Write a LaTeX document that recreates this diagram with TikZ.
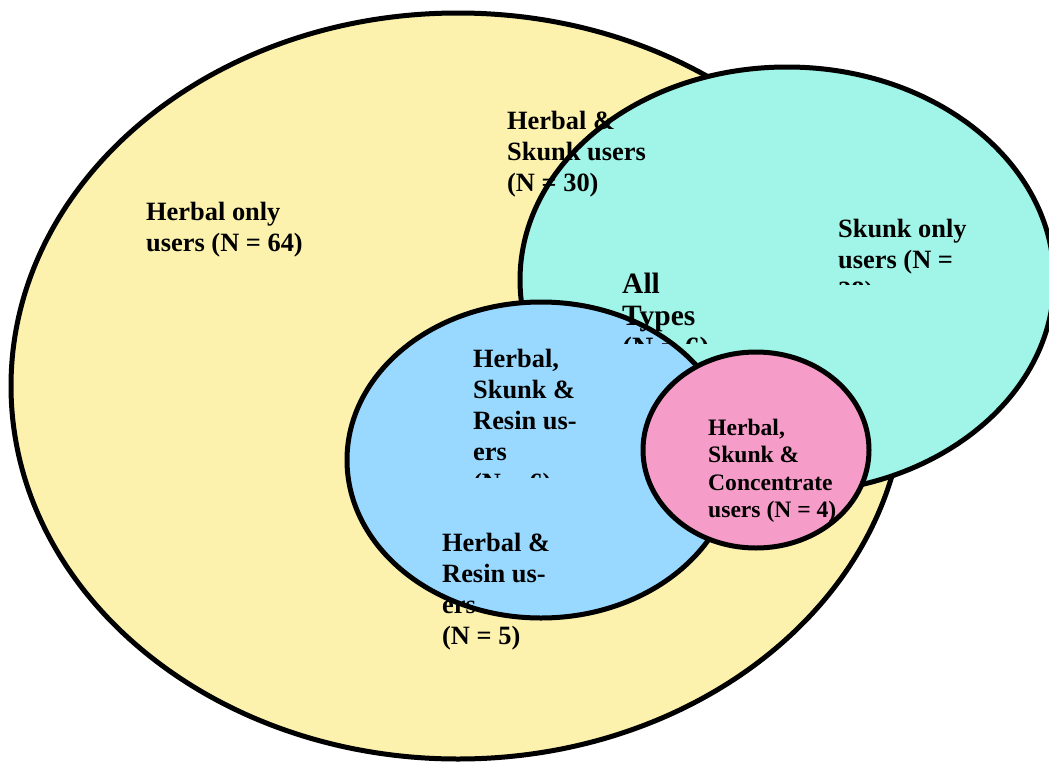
\documentclass[tikz,border=0pt]{standalone}
\usepackage{fontspec}
\setmainfont{Liberation Serif}
\usetikzlibrary{positioning}

\definecolor{herbalyellow}{RGB}{252,242,173}
\definecolor{skunkcyan}{RGB}{160,245,232}
\definecolor{resinblue}{RGB}{153,217,255}
\definecolor{concpink}{RGB}{245,157,200}

\begin{document}
\begin{tikzpicture}[x=1pt, y=-1pt,
		rim/.style={line width=5pt},
		lbl/.style={anchor=base west, align=left, inner sep=0pt, font=\bfseries\fontsize{26.4}{31}\selectfont}]
			\useasboundingbox (0,0) rectangle (1049,763);
			% sets
			\filldraw[fill=herbalyellow, rim] (458,386) ellipse [x radius=447pt, y radius=373pt];
			\fill[skunkcyan] (787,280) ellipse [x radius=267pt, y radius=213pt];
			\fill[resinblue] (541,460) ellipse [x radius=194pt, y radius=158pt];
			\fill[concpink] (756,450) ellipse [x radius=113pt, y radius=98pt];
			% labels (placed at the baseline of their last line)
			\node[lbl] (herbonly) at (146,251) {Herbal only\\users (N = 64)};
			\node[lbl] (herbskunk) at (507,191) {Herbal \&\\Skunk users\\(N = 30)};
			\begin{scope}
				\clip (820,200) rectangle (1000,284);
				\node[lbl] (skunkonly) at (838,299) {Skunk only\\users (N =\\28)};
			\end{scope}
			\begin{scope}
				\clip (600,260) rectangle (760,343);
				\node[lbl, font=\bfseries\fontsize{29.5}{32}\selectfont] (alltypes) at (622,357) {All\\Types\\(N = 6)};
			\end{scope}
			\begin{scope}
				\clip (460,330) rectangle (620,477);
				\node[lbl] (hsr) at (473,491) {Herbal,\\Skunk \&\\Resin us-\\ers\\(N = 6)};
			\end{scope}
			\node[lbl] (hr) at (442,644) {Herbal \&\\Resin us-\\ers\\(N = 5)};
			\node[lbl, font=\bfseries\fontsize{23.6}{27.5}\selectfont] (hsc) at (708,517.5) {Herbal,\\Skunk \&\\Concentrate\\users (N = 4)};
			% outlines over the labels
			\begin{scope}[even odd rule]
				\clip (0,0) rectangle (1049,763) (541,460) ellipse [x radius=194pt, y radius=158pt];
				\clip (0,0) rectangle (1049,763) (756,450) ellipse [x radius=113pt, y radius=98pt];
				\draw[rim] (787,280) ellipse [x radius=267pt, y radius=213pt];
			\end{scope}
			\begin{scope}[even odd rule]
				\clip (0,0) rectangle (1049,763) (756,450) ellipse [x radius=113pt, y radius=98pt];
				\draw[rim] (541,460) ellipse [x radius=194pt, y radius=158pt];
			\end{scope}
			\draw[rim] (756,450) ellipse [x radius=113pt, y radius=98pt];
		\end{tikzpicture}
\end{document}
